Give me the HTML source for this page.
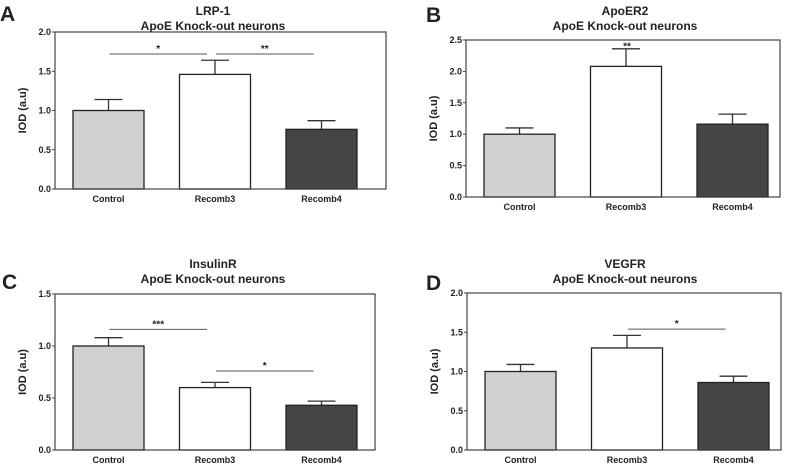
<!DOCTYPE html>
<html><head><meta charset="utf-8"><style>
html,body{margin:0;padding:0;background:#fff;}
svg{display:block;font-family:"Liberation Sans",Arial,sans-serif;}
</style></head><body>
<svg id="fig" width="787" height="464" viewBox="0 0 787 464"></svg>
<script>
const categories = ["Control","Recomb3","Recomb4"];
const colors = ["#d0d1d3","#ffffff","#454547"];
const titlesA = ["LRP-1","ApoER2","InsulinR","VEGFR"];
const letters = ["A","B","C","D"];
const valsA = [1.0,1.46,0.76];
const errsA = [0.14,0.18,0.11];
const valsB = [1.0,2.08,1.16];
const errsB = [0.10,0.28,0.16];
const valsC = [1.0,0.60,0.43];
const errsC = [0.08,0.05,0.04];
const valsD = [1.0,1.30,0.86];
const errsD = [0.09,0.16,0.08];
const ticksA = [0,0.5,1.0,1.5,2.0];
const ticksB = [0,0.5,1.0,1.5,2.0,2.5];
const ticksC = [0,0.5,1.0,1.5];
const ticksD = [0,0.5,1.0,1.5,2.0];
const sigA = [[0,1,1.72,"*"],[1,2,1.72,"**"]];
const sigB = [];
const sigC = [[0,1,1.16,"***"],[1,2,0.76,"*"]];
const sigD = [[1,2,1.54,"*"]];
const starB = [[1,2.38,"**"]];

const panels = [
 {L:55,R:386,T:32,B:189,ymax:2.0,vals:valsA,errs:errsA,ticks:ticksA,sig:sigA,stars:[],tx:213,ty:15,lx:0,ly:21},
 {L:466,R:780,T:40,B:197,ymax:2.5,vals:valsB,errs:errsB,ticks:ticksB,sig:sigB,stars:starB,tx:625,ty:15,lx:426,ly:22},
 {L:55,R:375,T:294,B:450,ymax:1.5,vals:valsC,errs:errsC,ticks:ticksC,sig:sigC,stars:[],tx:213,ty:268,lx:2,ly:289},
 {L:467,R:781,T:293,B:450,ymax:2.0,vals:valsD,errs:errsD,ticks:ticksD,sig:sigD,stars:[],tx:625,ty:268,lx:426,ly:290}
];
const NS="http://www.w3.org/2000/svg";
const svg=document.getElementById('fig');
function mk(tag,attrs,parent,txt){const e=document.createElementNS(NS,tag);for(const k in attrs)e.setAttribute(k,attrs[k]);if(txt!==undefined)e.textContent=txt;(parent||svg).appendChild(e);return e;}
panels.forEach((p,i)=>{
 const g=mk('g',{});
 
 
 const y=v=>p.B-(v/p.ymax)*(p.B-p.T);
 const xl=k=>p.L+18+k*106.5;
 const bw=71;
 const lt=mk('text',{x:p.lx,y:p.ly,'font-size':21,'font-weight':'bold',fill:'#222'},g,letters[i]);
 
 
 const t1=mk('text',{x:p.tx,y:p.ty,'font-size':12,'font-weight':'bold','text-anchor':'middle',fill:'#222'},g,titlesA[i]);
 
 
 const t2=mk('text',{x:p.tx,y:p.ty+15,'font-size':12,'font-weight':'bold','text-anchor':'middle',fill:'#222'},g,"ApoE Knock-out neurons");
 
 
 const yt=mk('text',{transform:`translate(${p.L-29},${(p.T+p.B)/2}) rotate(-90)`,'font-size':11,'font-weight':'bold','text-anchor':'middle',fill:'#222'},g,"IOD (a.u)");
 
 
 p.vals.forEach((v,k)=>{
  const x=xl(k);
  const e=p.errs[k];
  const c=x+bw/2;
  const el=mk('line',{x1:c,x2:c,y1:y(v),y2:y(v+e),stroke:'#333','stroke-width':1.3},g);
  
  
  const ec=mk('line',{x1:c-14,x2:c+14,y1:y(v+e),y2:y(v+e),stroke:'#333','stroke-width':1.3},g);
  
  
  const r=mk('rect',{x:x,y:y(v),width:bw,height:p.B-y(v),fill:colors[k],stroke:'#222','stroke-width':1.3},g);
  
  
  const cl=mk('text',{x:c,y:p.B+13,'font-size':9,'font-weight':'bold','text-anchor':'middle',fill:'#222'},g,categories[k]);
  
  
 });
 const fr=mk('rect',{x:p.L,y:p.T,width:p.R-p.L,height:p.B-p.T,fill:'none',stroke:'#444','stroke-width':1.2},g);
 
 
 p.ticks.forEach(tv=>{
  mk('line',{x1:p.L-3,x2:p.L,y1:y(tv),y2:y(tv),stroke:'#444'},g);
  const tl=mk('text',{x:p.L-4,y:y(tv)+3,'font-size':9,'font-weight':'bold','text-anchor':'end',fill:'#222'},g,tv.toFixed(1));
  
  
 });
 p.sig.forEach(s=>{
  const x1=xl(s[0])+bw/2+1, x2=xl(s[1])+bw/2-8;
  const sl=mk('line',{x1:x1,x2:x2,y1:y(s[2]),y2:y(s[2]),stroke:'#555','stroke-width':1},g);
  
  
  const st=mk('text',{x:(x1+x2)/2,y:y(s[2])-2,'font-size':10,'font-weight':'bold','text-anchor':'middle',fill:'#222'},g,s[3]);
  
  
 });
 p.stars.forEach(s=>{
  const st=mk('text',{x:xl(s[0])+bw/2+1,y:y(s[1])+2,'font-size':10,'font-weight':'bold','text-anchor':'middle',fill:'#222'},g,s[2]);
  
  
 });
});
</script>
</body></html>
